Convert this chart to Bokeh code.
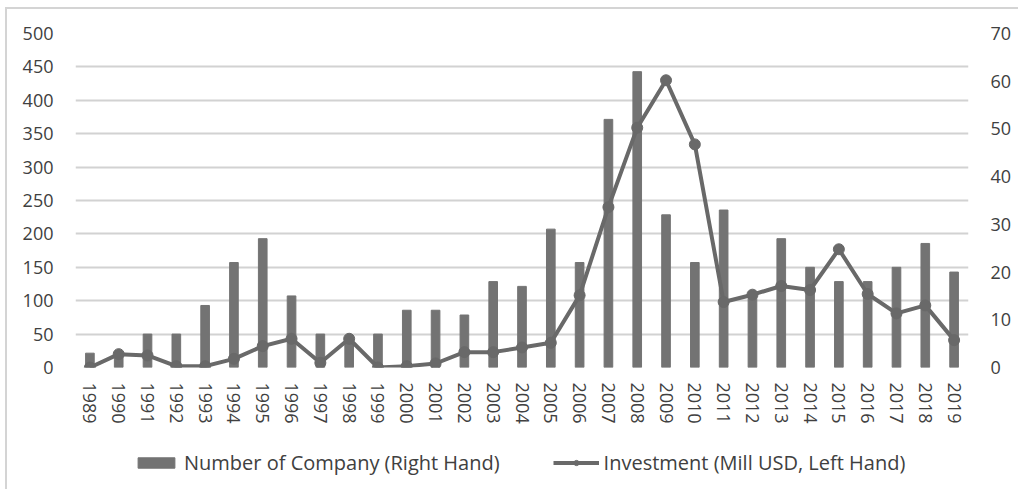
from bokeh.plotting import figure
from bokeh.layouts import column
from bokeh.models import (Range1d, LinearAxis, FactorRange, FixedTicker, Legend,
                          LegendItem, ColumnDataSource)
from bokeh.embed import file_html
from bokeh.resources import INLINE

years = ["1989", "1990", "1991", "1992", "1993", "1994", "1995", "1996", "1997", "1998",
         "1999", "2000", "2001", "2002", "2003", "2004", "2005", "2006", "2007", "2008",
         "2009", "2010", "2011", "2012", "2013", "2014", "2015", "2016", "2017", "2018", "2019"]
# Number of Company (right-hand axis)
companies = [3, 3, 7, 7, 13, 22, 27, 15, 7, 6,
             7, 12, 12, 11, 18, 17, 29, 22, 52, 62,
             32, 22, 33, 15, 27, 21, 18, 18, 21, 26, 20]
# Investment, Mill USD (left-hand axis)
investment = [0, 20, 18, 2, 2, 13, 32, 43, 7, 43,
              0, 2, 6, 23, 23, 30, 37, 108, 240, 359,
              430, 334, 98, 109, 122, 116, 177, 110, 81, 93, 41]
left_ticks = [0, 50, 100, 150, 200, 250, 300, 350, 400, 450, 500]
right_ticks = [0, 10, 20, 30, 40, 50, 60, 70]
labels = ["Number of Company (Right Hand)", "Investment (Mill USD, Left Hand)"]

src = ColumnDataSource(dict(year=years, companies=companies, investment=investment))

FONT = "Open Sans"
TXT = "#404040"
BAR = "#737373"
LINE = "#696969"

p = figure(x_range=FactorRange(factors=years), y_range=Range1d(0, 500),
           width=1011, height=421, output_backend="svg", toolbar_location=None,
           min_border_left=68, min_border_right=50, min_border_top=24, min_border_bottom=63)
p.extra_y_ranges = {"right": Range1d(0, 70)}
p.outline_line_color = None
p.xgrid.visible = False
p.ygrid.grid_line_color = "#d2d2d2"
p.ygrid.grid_line_width = 2
p.ygrid.ticker = FixedTicker(ticks=left_ticks)

p.vbar(x="year", top="companies", width=0.3, source=src, y_range_name="right",
       fill_color=BAR, line_color=BAR)
p.line("year", "investment", source=src, line_width=4, line_color=LINE)
p.scatter("year", "investment", source=src, size=11, fill_color=LINE, line_color=LINE)

p.yaxis.ticker = FixedTicker(ticks=left_ticks)
ra = LinearAxis(y_range_name="right", ticker=FixedTicker(ticks=right_ticks))
p.add_layout(ra, "right")

for ax in [p.yaxis[0], ra, p.xaxis[0]]:
    ax.axis_line_color = None
    ax.major_tick_line_color = None
    ax.minor_tick_line_color = None
    ax.major_tick_out = 0
    ax.major_tick_in = 0
    ax.minor_tick_out = 0
    ax.minor_tick_in = 0
    ax.major_label_text_font = FONT
    ax.major_label_text_font_size = "18px"
    ax.major_label_text_color = TXT
p.yaxis[0].major_label_standoff = 22
ra.major_label_standoff = 22
p.xaxis[0].major_label_orientation = "vertical"
p.xaxis[0].major_label_standoff = 15

# legend strip below the chart (its own small figure so nothing is clipped);
# its renderers use the same data but lie outside the strip's visible range
lf = figure(width=1011, height=59, output_backend="svg", toolbar_location=None,
            x_range=FactorRange(factors=years), y_range=Range1d(1000, 1001),
            x_axis_type=None, y_axis_type=None, min_border=0)
lf.outline_line_color = None
lf.xgrid.visible = False
lf.ygrid.visible = False
lb = lf.vbar(x="year", top="companies", width=0.3, source=src,
             fill_color=BAR, line_color=BAR)
ll = lf.line("year", "investment", source=src, line_width=4, line_color=LINE)
ls = lf.scatter("year", "investment", source=src, size=11, fill_color=LINE, line_color=LINE)

legend = Legend(items=[LegendItem(label=labels[0], renderers=[lb]),
                       LegendItem(label=labels[1], renderers=[ll, ls])],
                orientation="horizontal", location=(58, 13),
                border_line_color=None, background_fill_alpha=0,
                glyph_width=46, glyph_height=13, label_standoff=5, spacing=53,
                padding=0, margin=0,
                label_text_font=FONT, label_text_font_size="20px", label_text_color=TXT)
lf.add_layout(legend, "center")

page = column(p, lf, spacing=0)
page.styles = {"margin-left": "5px", "margin-top": "7px",
               "border-left": "2px solid #d4d4d4", "border-top": "2px solid #d4d4d4"}

open("out.html", "w").write(file_html(page, INLINE))
